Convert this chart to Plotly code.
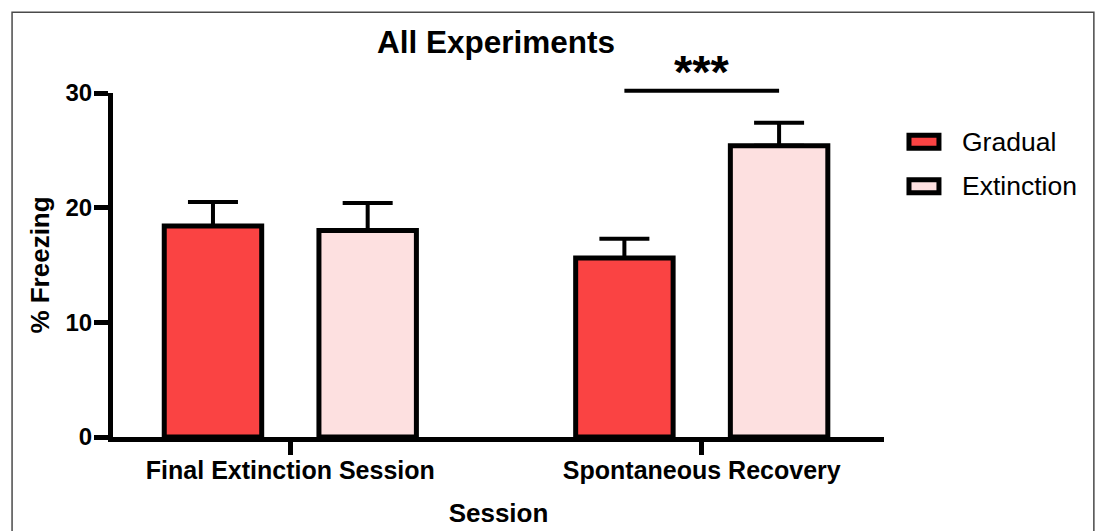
import plotly.graph_objects as go

# Session means and SEM per training group
sessions = ["Final Extinction Session", "Spontaneous Recovery"]
groups = ["Gradual", "Extinction"]
gradual_mean = [18.4, 15.6]
gradual_sem = [2.1, 1.7]
extinction_mean = [18.0, 25.4]
extinction_sem = [2.4, 2.0]
group_colors = ["#FA4343", "#FDE0E0"]
y_ticks = [0, 10, 20, 30]
y_range = [0, 30]
sig_label = "***"
sig_level = 30.2          # height of the significance bracket (% freezing)

FONT = "Liberation Sans, Arial, sans-serif"
W, H = 1098, 531
MARGIN = dict(l=112.5, r=214, t=93.3, b=93.5)
BARGAP = 0.248
BARGROUPGAP = 0.37
plot_w = W - MARGIN["l"] - MARGIN["r"]
plot_h = H - MARGIN["t"] - MARGIN["b"]


def px_x(px):
    return (px - MARGIN["l"]) / plot_w


def px_y(py):
    return (H - MARGIN["b"] - py) / plot_h


def val_y(v):
    return (v - y_range[0]) / (y_range[1] - y_range[0])


fig = go.Figure()
for name, mean, sem, color in zip(groups,
                                  [gradual_mean, extinction_mean],
                                  [gradual_sem, extinction_sem],
                                  group_colors):
    fig.add_trace(go.Bar(
        x=sessions, y=mean, name=name,
        marker=dict(color=color, line=dict(color="black", width=5)),
        error_y=dict(type="data", array=sem, arrayminus=[0] * len(sem),
                     symmetric=False, color="black", thickness=4, width=25),
        showlegend=False,
    ))

# significance bracket between the two Spontaneous Recovery bars
half_slot = (1 - BARGAP) / 4
shapes = [dict(type="line", xref="x", yref="paper",
               x0=1 - half_slot, x1=1 + half_slot,
               y0=val_y(sig_level), y1=val_y(sig_level),
               line=dict(color="black", width=4))]
annotations = [dict(text=sig_label, xref="x", yref="paper", x=1,
                    y=val_y(sig_level), yanchor="bottom", xanchor="center",
                    yshift=-9, showarrow=False,
                    font=dict(family=FONT, size=47, color="black", weight="bold"))]

# legend: outlined swatches with labels
for i, (name, color) in enumerate(zip(groups, group_colors)):
    cy = 142 + i * 44.7
    shapes.append(dict(type="rect", xref="paper", yref="paper",
                       x0=px_x(909), x1=px_x(939),
                       y0=px_y(cy - 6.5), y1=px_y(cy + 6.5),
                       fillcolor=color, line=dict(color="black", width=5)))
    annotations.append(dict(text=name, xref="paper", yref="paper",
                            x=px_x(960), y=px_y(cy), xanchor="left",
                            yanchor="middle", showarrow=False,
                            font=dict(family=FONT, size=26.5, color="black")))

# outer frame
shapes.append(dict(type="rect", xref="paper", yref="paper",
                   x0=px_x(11.5), x1=px_x(1094), y0=px_y(580), y1=px_y(12.5),
                   line=dict(color="#4a4a4a", width=1.5), layer="below"))

bold = dict(family=FONT, color="black", weight="bold")
fig.update_layout(
    width=W, height=H, margin=MARGIN,
    paper_bgcolor="white", plot_bgcolor="white",
    barmode="group", bargap=BARGAP, bargroupgap=BARGROUPGAP,
    title=dict(text="All Experiments", x=496 / W, xanchor="center",
               y=1 - 42 / H, yanchor="middle", font=dict(size=31.5, **bold)),
    xaxis=dict(range=[-0.431, 1.443], showline=True, linewidth=5,
               linecolor="black", ticks="outside", ticklen=13, tickwidth=5,
               tickcolor="black", tickfont=dict(size=25, **bold),
               ticklabelstandoff=-6,
               title=dict(text="Session", font=dict(size=26, **bold),
                          standoff=22),
               automargin=False, showgrid=False, zeroline=False),
    yaxis=dict(range=y_range, tickvals=y_ticks, showline=True, linewidth=5,
               linecolor="black", ticks="outside", ticklen=14, tickwidth=5,
               tickcolor="black", tickfont=dict(size=24, **bold),
               ticklabelstandoff=-3,
               title=dict(text="% Freezing", font=dict(size=26, **bold),
                          standoff=10),
               automargin=False, showgrid=False, zeroline=False),
    shapes=shapes, annotations=annotations,
)

fig.write_html("out.html")
